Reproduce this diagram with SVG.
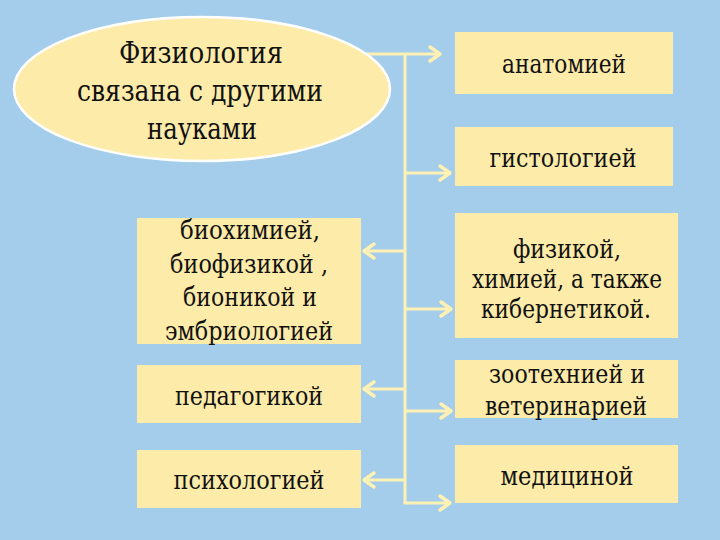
<svg xmlns="http://www.w3.org/2000/svg" width="720" height="540" viewBox="0 0 720 540">
<defs>
<style>
.bg{fill:#a3cdea}
.box{fill:#fdeba9}
.t{font-family:"DejaVu Serif","Liberation Serif",serif;font-size:26px;fill:#111;text-anchor:middle}
.tb{font-family:"DejaVu Serif","Liberation Serif",serif;font-size:29px;fill:#111;text-anchor:middle}
.c{stroke:#fff1b3;stroke-width:3;fill:none}
</style>
<marker id="ah" markerUnits="userSpaceOnUse" markerWidth="18" markerHeight="20" viewBox="-13 -10 18 20" refX="0" refY="0" orient="auto">
<path d="M-10,-7 L0,0 L-10,7" stroke="#fff1b3" stroke-width="3.5" fill="none" stroke-linecap="round" stroke-linejoin="round"/>
</marker>
</defs>
<rect class="bg" x="0" y="0" width="720" height="540"/>
<g id="connectors">
<path class="c" d="M365,54 H440" marker-end="url(#ah)"/>
<path class="c" d="M405,54 V503"/>
<path class="c" d="M405,173 H450" marker-end="url(#ah)"/>
<path class="c" d="M405,251 H364" marker-end="url(#ah)"/>
<path class="c" d="M405,309 H451" marker-end="url(#ah)"/>
<path class="c" d="M405,389 H364" marker-end="url(#ah)"/>
<path class="c" d="M405,411 H451" marker-end="url(#ah)"/>
<path class="c" d="M405,480 H364" marker-end="url(#ah)"/>
<path class="c" d="M403.5,503 H450" marker-end="url(#ah)"/>
</g>
<g id="center">
<ellipse cx="202" cy="89" rx="188" ry="72" fill="#fdeba9" stroke="#ffffff" stroke-width="2.5"/>
<text class="tb" x="201" y="63" textLength="164" lengthAdjust="spacingAndGlyphs">Физиология</text>
<text class="tb" x="200" y="101" textLength="246" lengthAdjust="spacingAndGlyphs">связана с другими</text>
<text class="tb" x="202" y="139" textLength="110" lengthAdjust="spacingAndGlyphs">науками</text>
</g>
<g id="anatomy">
<rect class="box" x="455" y="32" width="218" height="62"/>
<text class="t" x="564" y="73" textLength="124" lengthAdjust="spacingAndGlyphs">анатомией</text>
</g>
<g id="histology">
<rect class="box" x="455" y="127" width="218" height="59"/>
<text class="t" x="563" y="167" textLength="147" lengthAdjust="spacingAndGlyphs">гистологией</text>
</g>
<g id="biochem">
<rect class="box" x="137" y="218" width="224" height="126"/>
<text class="t" x="250" y="239" textLength="140" lengthAdjust="spacingAndGlyphs">биохимией,</text>
<text class="t" x="249" y="273" textLength="158" lengthAdjust="spacingAndGlyphs">биофизикой ,</text>
<text class="t" x="250" y="306" textLength="134" lengthAdjust="spacingAndGlyphs">бионикой и</text>
<text class="t" x="249" y="340" textLength="168" lengthAdjust="spacingAndGlyphs">эмбриологией</text>
</g>
<g id="physics">
<rect class="box" x="455" y="213" width="223" height="125"/>
<text class="t" x="567" y="258" textLength="108" lengthAdjust="spacingAndGlyphs">физикой,</text>
<text class="t" x="567" y="288" textLength="190" lengthAdjust="spacingAndGlyphs">химией, а также</text>
<text class="t" x="566" y="318" textLength="170" lengthAdjust="spacingAndGlyphs">кибернетикой.</text>
</g>
<g id="pedagogy">
<rect class="box" x="137" y="365" width="224" height="58"/>
<text class="t" x="249" y="405" textLength="148" lengthAdjust="spacingAndGlyphs">педагогикой</text>
</g>
<g id="zoo">
<rect class="box" x="455" y="360" width="223" height="58"/>
<text class="t" x="567" y="383" textLength="156" lengthAdjust="spacingAndGlyphs">зоотехнией и</text>
<text class="t" x="566" y="415" textLength="162" lengthAdjust="spacingAndGlyphs">ветеринарией</text>
</g>
<g id="psychology">
<rect class="box" x="137" y="450" width="224" height="58"/>
<text class="t" x="249" y="489" textLength="151" lengthAdjust="spacingAndGlyphs">психологией</text>
</g>
<g id="medicine">
<rect class="box" x="455" y="445" width="223" height="58"/>
<text class="t" x="567" y="485" textLength="133" lengthAdjust="spacingAndGlyphs">медициной</text>
</g>
</svg>
